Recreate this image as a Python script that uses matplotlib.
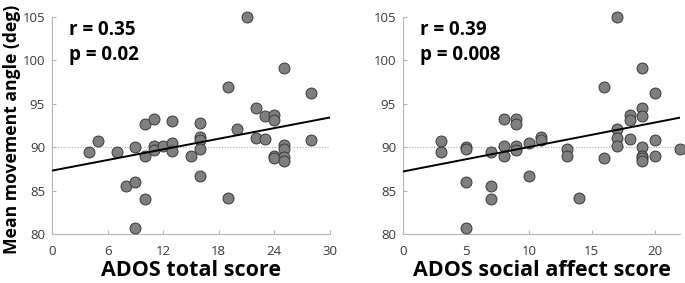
import numpy as np
import matplotlib
matplotlib.use("Agg")
import matplotlib.pyplot as plt

# ADOS total score vs mean movement angle
total_x = [4, 5, 7, 8, 9, 9, 9, 10, 10, 10, 11, 11, 11, 12, 13, 13, 13, 15,
           16, 16, 16, 16, 16, 19, 19, 20, 21, 22, 22, 23, 23,
           24, 24, 24, 24, 25, 25, 25, 25, 25, 28, 28]
total_y = [89.4, 90.7, 89.5, 85.5, 90.0, 86.0, 80.65, 92.65, 89.0, 84.0,
           93.2, 90.1, 89.7, 90.1, 93.05, 90.5, 89.6, 89.0,
           92.8, 91.2, 90.8, 89.8, 86.7, 96.9, 84.1, 92.05, 105.0, 94.5, 91.1,
           93.55, 91.0, 93.75, 93.1, 89.0, 88.7, 99.1, 90.3, 89.8, 88.9, 88.45,
           96.25, 90.8]

# ADOS social affect score vs mean movement angle
social_x = [3, 3, 5, 5, 5, 5, 7, 7, 7, 8, 8, 8, 9, 9, 9, 9, 10, 10, 11, 11,
            13, 13, 14, 16, 16, 17, 17, 17, 17, 18, 18, 18,
            19, 19, 19, 19, 19, 19, 19, 20, 20, 20, 22]
social_y = [90.7, 89.4, 90.0, 89.8, 86.0, 80.65, 89.45, 85.5, 84.0, 93.2, 90.1, 89.0,
            93.2, 92.65, 90.1, 89.65, 90.5, 86.7, 91.2, 90.8,
            89.8, 89.0, 84.1, 96.9, 88.7, 105.0, 92.05, 91.1, 90.1, 93.75, 93.1, 91.0,
            99.1, 94.5, 93.55, 90.0, 89.0, 88.7, 88.45, 96.25, 90.8, 89.0, 89.8]

# regression line (intercept, slope)
total_fit = [87.3, 0.204]
social_fit = [87.2, 0.282]

total_ticks = [0, 6, 12, 18, 24, 30]
social_ticks = [0, 5, 10, 15, 20]
y_ticks = [80, 85, 90, 95, 100, 105]

plt.rcParams['font.family'] = ['Open Sans', 'DejaVu Sans']

fig = plt.figure(figsize=(6.85, 2.83), dpi=100)
ax1 = fig.add_axes([0.0759, 0.1731, 0.4058, 0.767])
ax2 = fig.add_axes([0.5883, 0.1731, 0.4044, 0.767])

panels = [
    (ax1, total_x, total_y, total_fit, total_ticks, 30, "ADOS total score", "r = 0.35\np = 0.02"),
    (ax2, social_x, social_y, social_fit, social_ticks, 22, "ADOS social affect score", "r = 0.39\np = 0.008"),
]

for ax, xs, ys, fit, ticks, xmax, xlabel, stats in panels:
    ax.axhline(90, color="#b0b0b0", lw=0.8, ls=(0, (1, 1.5)), zorder=1)
    ax.scatter(xs, ys, s=62, color="#7f7f7f", edgecolor="#3a3a3a",
               linewidth=0.7, zorder=3, clip_on=False)
    xx = np.array([0, xmax])
    ax.plot(xx, fit[0] + fit[1] * xx, color="black", lw=1.4, zorder=4)
    ax.set_xlim(0, xmax)
    ax.set_ylim(80, 105)
    ax.set_xticks(ticks)
    ax.set_yticks(y_ticks)
    for s in ["top", "right"]:
        ax.spines[s].set_visible(False)
    for s in ["left", "bottom"]:
        ax.spines[s].set_color("#b5b5b5")
        ax.spines[s].set_linewidth(0.8)
    ax.tick_params(direction="in", length=3, width=0.8, color="#b5b5b5",
                   labelcolor="#3a3a3a", labelsize=9.5)
    ax.tick_params(axis="x", pad=8)
    ax.tick_params(axis="y", pad=5)
    ax.set_xlabel(xlabel, fontsize=15.5, fontweight="bold", labelpad=1)
    ax.text(0.06, 0.985, stats, transform=ax.transAxes, fontsize=13.5,
            fontweight="bold", va="top", ha="left", linespacing=1.3)

ax1.set_ylabel("Mean movement angle (deg)", fontsize=12.6, fontweight="bold")
ax1.yaxis.set_label_coords(-0.11, 0.48)

fig.savefig("out.png", dpi=100)
